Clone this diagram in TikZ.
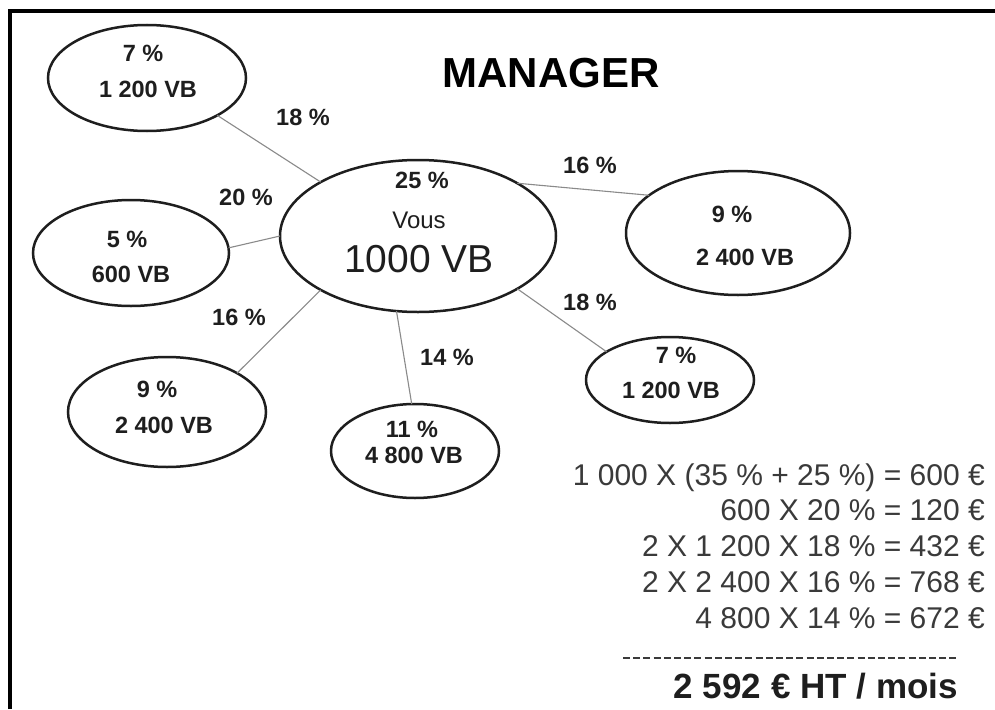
\documentclass[tikz,border=0pt]{standalone}
\usepackage{fontspec}
\setmainfont{Liberation Sans}
\usetikzlibrary{shapes.geometric}
\definecolor{ink}{HTML}{1E1E1E}
\definecolor{calcink}{HTML}{3A3A3A}
\definecolor{linegray}{HTML}{8A8A8A}
\begin{document}
\begin{tikzpicture}[x=1pt,y=-1pt,
  oval/.style={ellipse, draw=ink, line width=2.5pt, inner sep=0pt, outer sep=0pt},
  conn/.style={draw=linegray, line width=1.1pt},
  lbl/.style={font=\bfseries\fontsize{23.5}{25}\selectfont, text=ink, inner sep=0pt, anchor=base},
  calcline/.style={font=\fontsize{30}{32}\selectfont, text=calcink, inner sep=0pt, anchor=base east}]
\useasboundingbox (0,0) rectangle (995,709);
\fill[white] (0,0) rectangle (995,709);
% frame
\draw[line width=4pt] (10,709) -- (10,11) -- (995,11);
% title
\node[font=\bfseries\fontsize{42}{44}\selectfont, inner sep=0pt, anchor=base] (title) at (551,87) {MANAGER};
% ellipses
\node[oval, minimum width=198pt, minimum height=106pt] (tl) at (147,78) {};
\node[oval, minimum width=196pt, minimum height=106pt] (lf) at (131,253) {};
\node[oval, minimum width=276pt, minimum height=152pt] (c) at (418,236) {};
\node[oval, minimum width=224pt, minimum height=124pt] (r) at (738,233) {};
\node[oval, minimum width=198pt, minimum height=110pt] (bl) at (167,412) {};
\node[oval, minimum width=168pt, minimum height=94pt] (bm) at (415,451) {};
\node[oval, minimum width=168pt, minimum height=86pt] (sr) at (670,380) {};
% connectors
\draw[conn] (tl.332) -- (c.151);
\draw[conn] (lf.3) -- (c.180);
\draw[conn] (bl.29) -- (c.209);
\draw[conn] (bm.94) -- (c.254);
\draw[conn] (r.157) -- (c.28);
\draw[conn] (sr.156) -- (c.332);
% ellipse texts
\node[lbl] (tlp) at (143,62) {7 \%};
\node[lbl] (tlv) at (148,97) {1 200 VB};
\node[lbl] (lfp) at (127,247) {5 \%};
\node[lbl] (lfv) at (131,282) {600 VB};
\node[lbl] (cp) at (422,188) {25 \%};
\node[font=\fontsize{24}{26}\selectfont, text=ink, inner sep=0pt, anchor=base] (cv) at (419,228) {Vous};
\node[font=\fontsize{39}{41}\selectfont, text=ink, inner sep=0pt, anchor=base] (cn) at (419,272) {1000 VB};
\node[lbl] (rp) at (732,222) {9 \%};
\node[lbl] (rv) at (745,265) {2 400 VB};
\node[lbl] (blp) at (157,397) {9 \%};
\node[lbl] (blv) at (164,433) {2 400 VB};
\node[lbl] (bmp) at (412,437) {11 \%};
\node[lbl] (bmv) at (414,463) {4 800 VB};
\node[lbl] (srp) at (676,363) {7 \%};
\node[lbl] (srv) at (671,398) {1 200 VB};
% connector labels
\node[lbl] (e1) at (303,125) {18 \%};
\node[lbl] (e2) at (246,205) {20 \%};
\node[lbl] (e3) at (239,325) {16 \%};
\node[lbl] (e4) at (447,365) {14 \%};
\node[lbl] (e5) at (590,173) {16 \%};
\node[lbl] (e6) at (590,310) {18 \%};
% calculation
\node[calcline] (k1) at (985,485) {1 000 X (35 \% + 25 \%) = 600 €};
\node[calcline] (k2) at (985,520) {600 X 20 \% = 120 €};
\node[calcline] (k3) at (985,556) {2 X 1 200 X 18 \% = 432 €};
\node[calcline] (k4) at (985,592) {2 X 2 400 X 16 \% = 768 €};
\node[calcline] (k5) at (985,628) {4 800 X 14 \% = 672 €};
\coordinate (ruleL) at (623,658);
\coordinate (ruleR) at (958,658);
\draw[calcink, line width=2pt, dash pattern=on 7pt off 3.2pt] (ruleL) -- (ruleR);
\node[font=\bfseries\fontsize{35}{37}\selectfont, text=ink, inner sep=0pt, anchor=base east] (tot) at (958,698) {2 592 € HT / mois};
\end{tikzpicture}
\end{document}
